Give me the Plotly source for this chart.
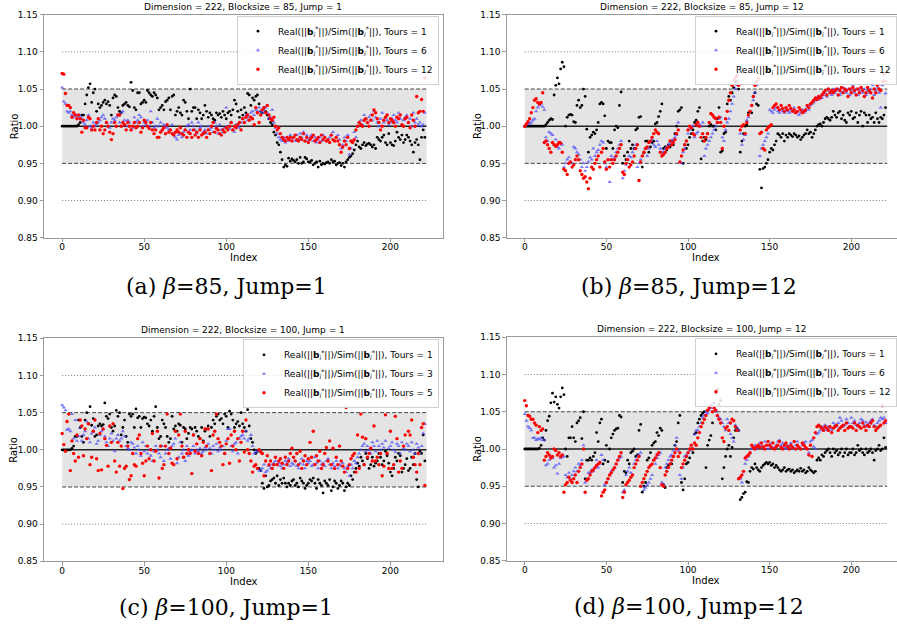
import plotly.graph_objects as go

# Values are deviations from 1.0 in thousandths (ratio = 1 + v/1000), index 0..221
a_t1 = [0,0,0,0,0,0,0,0,0,0,
 2,5,15,15,30,42,52,57,32,45,
 50,20,30,25,28,32,35,30,33,28,
 15,38,42,40,25,20,18,28,30,32,
 28,26,59,48,25,22,45,45,30,32,
 35,32,48,45,42,40,45,42,38,22,
 25,28,22,33,35,38,22,40,42,15,
 20,25,18,15,35,32,20,10,50,20,
 25,25,10,22,18,10,15,28,20,12,
 18,15,10,8,18,15,17,12,20,15,
 10,18,20,15,22,35,30,20,12,22,
 15,25,18,44,42,28,38,35,40,42,
 30,20,18,25,20,15,10,5,2,-8,
 -12,-22,-25,-35,-45,-55,-52,-54,-43,-47,
 -44,-46,-48,-45,-50,-42,-50,-48,-42,-44,
 -48,-48,-46,-52,-50,-48,-55,-47,-52,-50,
 -51,-49,-48,-50,-45,-48,-47,-52,-50,-49,
 -53,-50,-55,-48,-45,-42,-40,-37,-32,-25,
 -20,-28,-30,-25,-22,-26,-24,-23,-25,-28,
 -25,-30,-15,-18,-20,-15,-12,-22,-25,-10,
 -22,-25,-26,-20,-8,-15,-18,-12,-22,-18,
 -12,-15,-20,-25,-35,-22,-18,-25,-45,-15,
 -5,-15]
a_t6 = [52,33,30,20,18,20,15,12,15,14,
 12,14,10,5,2,8,15,0,-2,5,
 0,3,5,8,12,15,10,5,0,-2,
 5,10,8,12,15,5,18,20,8,0,
 8,5,-5,-2,12,5,8,15,12,0,
 5,2,8,0,20,5,-2,0,10,0,
 5,-5,2,0,-2,-5,-5,2,-10,-15,
 -18,-12,-10,-15,-8,-5,0,2,-5,5,
 0,-5,-10,5,-2,0,-8,-5,-10,0,
 -5,-2,-8,5,0,-10,2,-5,-8,-2,
 25,0,-3,5,-5,-8,2,0,-2,5,
 10,5,15,8,12,18,20,15,22,20,
 25,20,18,22,25,18,10,12,22,5,
 -2,-10,-15,-18,-20,-15,-22,-15,-20,-12,
 -18,-15,-20,-12,-18,-10,-15,-8,-20,-12,
 -18,-15,-12,-20,-15,-22,-18,-15,-20,-12,
 -15,-20,-18,-15,-12,-8,-20,-15,-12,-18,
 -30,-25,-15,-20,-12,-38,-30,-20,-8,-15,
 0,5,8,2,15,10,5,12,15,8,
 20,12,5,0,10,18,5,12,8,2,
 5,10,15,8,5,18,10,2,8,12,
 15,5,10,0,18,5,10,2,5,0,
 2,18]
a_t12 = [71,70,44,28,28,25,12,18,15,10,
 15,10,-8,8,-2,-2,12,10,-5,0,
 -5,5,10,-5,0,-10,-5,5,0,-8,
 -18,-10,5,0,15,15,0,5,2,-5,
 5,0,-5,0,5,-2,0,5,-8,-2,
 8,5,0,-3,5,-5,-10,-5,-15,-15,
 -8,-5,-2,-10,2,-8,-5,-10,-12,-8,
 -5,-8,-2,-10,-12,-5,-15,-8,-10,-15,
 -5,-12,-8,-15,-5,-12,-10,-8,-15,-5,
 -10,0,5,-8,-3,-5,-10,-12,-5,-8,
 -2,-5,0,5,-5,0,-2,2,5,-5,
 10,5,12,15,8,12,10,2,25,18,
 5,15,22,25,18,28,15,10,8,12,
 0,-5,-2,-10,-15,-18,-20,-15,-18,-15,
 -20,-15,-12,-18,-20,-15,-18,-10,-20,-15,
 -22,-18,-15,-12,-20,-18,-15,-22,-12,-18,
 -15,-20,-18,-22,-12,-18,-20,-15,-20,-25,
 -35,-28,-20,-25,-15,-30,-20,-22,-18,-5,
 0,5,2,0,8,10,5,0,8,15,
 22,18,10,5,-5,0,8,12,15,5,
 10,8,5,0,12,10,15,2,0,10,
 12,5,-2,15,8,0,40,18,20,36,
 20,65]

b_t1 = [0,0,0,0,0,0,0,0,0,0,
 0,0,0,2,5,8,10,9,42,55,
 65,57,77,86,80,0,12,15,16,15,
 6,5,28,35,25,28,50,40,-4,-35,
 -15,-12,-8,-10,-5,5,30,32,30,14,
 -30,-20,-22,-22,-30,-5,0,-2,28,46,
 -50,-40,-45,-35,-20,-30,-25,-30,-5,-3,
 12,13,-55,-36,-20,-20,-35,-28,-22,-20,
 3,5,13,20,30,-30,-28,-32,-25,-28,
 -20,-25,-10,0,20,22,25,-50,-25,-30,
 -25,-15,-10,-5,5,8,20,25,-44,-20,
 -15,-18,-10,0,2,0,0,-5,10,25,
 -35,-33,-10,-8,30,40,35,45,52,60,
 60,50,-35,-20,-10,0,2,18,20,18,
 40,45,30,28,-58,-83,-57,-55,-50,-45,
 -35,-30,-32,-25,-20,-10,-12,-15,-10,-20,
 -12,-15,-10,-12,-14,-10,-12,-15,-13,-18,
 -15,-12,-10,-5,-10,-8,-15,-10,-5,0,
 2,3,0,5,10,12,10,8,12,20,
 15,12,18,20,10,15,8,5,18,15,
 20,10,12,18,5,15,20,0,18,15,
 5,15,10,12,5,18,10,5,12,10,
 15,25]
b_t6 = [0,2,4,3,5,8,10,20,25,28,
 30,26,22,-15,-20,-8,-10,-12,-25,-18,
 -28,-30,-22,-25,-55,-50,-45,-42,-48,-50,
 -28,-30,-35,-38,-45,-55,-50,-60,-55,-48,
 -42,-45,-30,-40,-35,-32,-25,-20,-22,-50,
 -55,-45,-75,-40,-45,-42,-35,-30,-25,-20,
 -70,-60,-52,-45,-40,-42,-35,-30,-25,-55,
 -50,-45,-40,-35,-30,-40,-30,-22,-18,-25,
 -28,-20,-25,-30,-35,-35,-30,-28,-25,-22,
 -20,-18,-15,-12,5,-48,-50,-35,-30,-20,
 -10,-5,-2,0,-15,-10,-8,2,0,5,
 -40,-30,-25,-20,-15,-10,-5,0,5,10,
 12,-15,-20,-5,5,10,20,30,40,50,
 55,72,-10,-25,-18,-12,8,12,20,28,
 35,45,55,62,-40,-30,-25,-20,-15,-10,
 22,20,18,22,25,20,18,22,20,18,
 22,20,18,22,20,25,18,20,15,18,
 22,18,20,25,22,28,30,32,35,38,
 36,40,38,42,45,40,48,45,42,50,
 45,48,50,42,45,52,48,45,50,42,
 48,55,45,50,42,48,52,45,50,42,
 48,45,50,55,42,48,52,45,25,55,
 62,44]
b_t12 = [0,3,6,10,18,25,35,37,32,30,
 32,45,-22,-20,-25,-30,-35,-22,-25,-27,
 -25,-22,-23,-35,-58,-60,-65,-50,-48,-55,
 -52,-45,-40,-45,-60,-65,-70,-68,-75,-84,
 -70,-55,-58,-50,-45,-40,-55,-35,-30,-48,
 -58,-45,-55,-45,-50,-45,-40,-35,-30,-25,
 -62,-65,-50,-45,-55,-52,-48,-40,-30,-25,
 -73,-48,-40,-35,-30,-28,-22,-20,-15,-10,
 -5,-8,-10,-35,-40,-38,-35,-30,-28,-20,
 -25,-22,-18,-10,-5,-48,-40,-32,-25,-20,
 -5,0,-2,-10,-12,2,5,0,-15,-10,
 -20,-15,-10,5,17,15,12,10,5,12,
 5,-30,0,10,20,35,45,55,62,65,
 68,55,-5,0,2,-10,5,15,20,28,
 40,55,60,65,-10,-8,-30,-32,-5,-2,
 0,2,25,28,30,25,22,28,24,20,
 25,22,28,24,20,22,18,20,25,22,
 18,20,22,28,25,30,32,35,38,36,
 40,38,42,45,48,42,50,45,48,45,
 48,50,42,48,52,45,50,48,40,50,
 45,52,48,42,50,45,52,48,40,45,
 52,48,45,38,50,45,55,50,48,60,
 70,60]

c_t1 = [0,0,0,0,0,0,2,5,18,18,
 40,30,18,10,40,50,35,58,33,42,
 18,20,32,35,32,34,63,45,42,48,
 30,25,32,53,45,50,20,30,40,18,
 10,48,45,48,30,55,43,45,30,42,
 44,43,35,32,40,25,45,58,30,15,
 18,40,35,30,18,10,15,45,28,32,
 25,35,33,10,30,28,15,22,30,28,
 20,30,25,18,15,30,12,25,28,32,
 18,30,40,35,45,48,40,42,35,48,
 45,30,52,48,40,30,35,38,32,50,
 35,30,25,54,32,15,10,0,-5,-2,
 -25,-28,-45,-52,-35,-50,-48,-42,-40,-38,
 -45,-35,-48,-40,-45,-38,-45,-50,-45,-48,
 -42,-40,-48,-45,-50,-38,-42,-45,-52,-48,
 -45,-40,-42,-38,-45,-52,-40,-45,-48,-58,
 -42,-45,-48,-40,-55,-50,-42,-45,-52,-48,
 -42,-45,-55,-50,-45,-48,-35,-40,-30,-25,
 -18,-22,-10,-15,-20,-5,-12,-25,-20,-10,
 -22,-18,-15,-5,-10,-20,-15,-2,-8,-18,
 -30,-35,-25,-10,-15,-5,-8,-30,-25,-20,
 -12,-28,-25,-10,-20,-5,-40,-50,-2,-5,
 20,-15]
c_t3 = [60,57,53,27,28,25,48,15,40,12,
 18,30,12,20,25,38,15,10,22,25,
 30,8,12,20,25,28,18,10,5,15,
 22,12,-2,15,20,12,15,25,18,5,
 2,0,10,8,3,-5,5,0,-8,10,
 -2,5,-5,0,-8,-15,-2,5,0,-5,
 -10,5,-15,-5,0,2,-12,5,8,15,
 -18,-10,10,-5,0,-15,5,-8,-2,0,
 5,-5,0,-2,2,-5,-2,3,0,8,
 2,-5,5,0,8,-2,3,0,5,-5,
 12,28,28,5,-2,8,10,-5,15,18,
 20,15,25,12,15,20,5,-5,-3,-2,
 -28,-28,-25,-20,-30,-28,-22,-25,-20,-18,
 -15,-20,-18,-22,-25,-20,-15,-18,-12,-22,
 -18,-20,-15,-22,-25,-18,-12,-20,-25,-15,
 -18,-15,-22,-20,-10,-18,-25,-15,-20,-18,
 -22,-15,-12,-20,-25,-18,-22,-15,-25,-20,
 -22,-18,-25,-30,-22,-35,-20,-25,-15,-18,
 -10,-5,0,5,8,-2,5,0,-5,10,
 5,-2,12,5,0,8,3,12,-5,2,
 5,10,0,-3,8,5,-5,10,2,0,
 8,5,-2,10,0,-5,8,3,-5,5,
 22,35]
c_t5 = [22,7,-2,38,48,-28,12,-5,-15,20,
 -10,40,32,-8,28,15,35,-20,-10,25,
 40,-12,-28,22,-27,28,15,6,-22,32,
 10,35,-15,-30,10,-22,5,-52,-25,-22,
 5,-40,-35,-5,-20,-22,15,20,-5,-18,
 -35,-15,5,-12,0,22,-15,-2,25,-38,
 5,-25,-20,5,48,-5,2,-18,-20,25,
 -12,20,48,5,-10,25,-5,0,-5,-32,
 20,-2,8,-5,15,-8,10,28,5,28,
 -5,-28,20,25,48,15,10,5,-20,-5,
 8,15,-18,20,5,25,0,15,-15,10,
 25,-3,40,0,-5,-15,-30,-22,-20,-25,
 0,-3,-5,-35,-15,-8,-20,-15,-25,-20,
 -10,-20,-15,-12,-18,-25,-10,-20,-15,-5,
 2,-10,-15,-5,-20,-2,-25,-15,-8,-20,
 -12,10,-10,25,-20,-8,-15,-2,-25,-20,
 -5,3,-15,12,-20,2,-25,-10,-20,5,
 -15,-22,-30,57,-25,-20,-12,-8,-5,-30,
 20,-25,48,17,-20,15,-10,-5,2,-15,
 32,-15,-10,-20,-5,-35,-22,47,-5,-25,
 25,-25,-20,45,15,-30,-15,-25,5,20,
 70,25,20,40,-10,-20,-30,-5,-20,30,
 35,-48]

d_t1 = [0,0,0,0,0,0,0,0,0,1,
 5,15,12,25,38,44,62,75,63,70,
 60,55,70,82,73,0,-10,15,15,30,
 15,10,35,38,42,14,50,-40,-15,-15,
 -12,-15,-10,-5,22,10,35,40,-20,-15,
 5,-17,0,15,20,25,27,28,45,43,
 -45,-30,-32,-15,-20,-5,-3,0,-10,-8,
 25,33,-58,-50,-45,-15,-12,-5,5,8,
 10,22,18,28,25,-48,-52,-25,-22,-20,
 -20,-10,5,10,35,45,-45,-55,-40,-20,
 -18,-12,0,-5,20,22,35,40,45,48,
 50,-25,5,12,18,35,62,75,80,60,
 65,-40,-25,-10,0,5,-10,2,15,25,
 28,25,-68,-65,-60,-58,-44,-45,-30,-25,
 -27,-20,-25,-28,-30,-25,-22,-20,-18,-20,
 -18,-22,-20,-25,-22,-25,-28,-30,-28,-25,
 -30,-28,-27,-30,-28,-32,-30,-28,-30,-26,
 -30,-28,-32,-30,-25,-28,-30,-32,-30,-15,
 -12,-15,-8,-10,-5,-2,0,-5,-10,0,
 -5,-2,-8,-5,0,-10,-5,0,-8,-5,
 -5,0,-8,-5,5,-2,0,-5,-8,0,
 -5,-3,0,-5,-15,-2,0,5,-2,0,
 15,2]
d_t6 = [47,38,30,28,25,15,15,12,14,13,
 15,12,12,-22,-20,-15,-10,-12,-25,-22,
 -33,-20,-12,-10,-10,-35,-38,-32,-40,-35,
 -30,-25,-30,-20,-22,-15,5,-45,-40,-32,
 -32,-28,-30,-25,-15,-25,-20,-8,-15,-48,
 -45,-40,-35,-30,-28,-25,-20,-15,-12,-10,
 -58,-55,-35,-30,-25,-32,-35,-20,-15,-10,
 -8,-5,-50,-55,-52,-48,-45,-40,-35,-15,
 -20,-12,-8,-5,-45,-48,-25,-20,-15,-10,
 -8,-2,5,15,-2,-35,-40,-25,-10,-8,
 -5,-2,5,0,20,25,25,30,35,42,
 45,50,48,52,55,60,55,50,45,42,
 40,35,30,25,40,35,20,15,10,32,
 28,25,-40,-45,-30,-20,-15,-10,-5,0,
 2,5,0,3,8,5,2,10,5,0,
 5,8,2,0,5,10,12,5,8,2,
 0,5,2,8,3,0,5,10,2,0,
 5,8,10,0,-5,10,12,3,0,20,
 22,25,30,28,32,25,30,28,25,35,
 32,30,35,42,38,30,32,40,35,30,
 42,35,38,32,30,35,40,38,32,36,
 30,35,38,40,32,30,35,38,42,40,
 42,35]
d_t12 = [65,58,45,44,40,40,35,32,22,30,
 25,27,-15,-10,-5,-8,-12,-10,0,-2,
 -8,-5,-10,-8,-58,-48,-45,-38,-42,-45,
 -40,-35,-45,-30,-25,-20,0,-58,-42,-40,
 -35,-30,-28,-25,-22,-20,-18,-63,-58,-55,
 -45,-40,-35,-32,-28,-25,-20,-15,-10,-5,
 -65,-58,-48,-45,-42,-38,-35,-25,-20,-15,
 -10,-50,-45,-40,-35,-30,-25,-22,-20,-15,
 -12,-8,-5,-25,-48,-50,-35,-30,-25,-20,
 -15,-10,-5,0,-10,-5,-25,-20,-15,-10,
 -5,0,5,0,8,5,15,22,30,35,
 40,45,52,55,58,50,55,52,45,40,
 35,15,10,28,30,25,35,40,38,30,
 25,-40,-38,-35,-30,-12,-10,-8,-5,5,
 2,0,3,5,2,8,3,0,5,10,
 5,2,8,0,3,5,10,2,0,5,
 8,3,0,5,2,10,0,5,2,0,
 8,5,2,0,-8,5,-10,15,22,30,
 32,30,28,25,30,28,25,30,22,28,
 30,32,25,28,30,32,25,35,28,30,
 30,28,35,25,32,30,28,35,30,25,
 32,30,35,38,30,25,28,30,32,58,
 35,38]

titles = ["Dimension = 222, Blocksize = 85, Jump = 1",
          "Dimension = 222, Blocksize = 85, Jump = 12",
          "Dimension = 222, Blocksize = 100, Jump = 1",
          "Dimension = 222, Blocksize = 100, Jump = 12"]
captions = ["(a) <i>β</i>=85, Jump=1", "(b) <i>β</i>=85, Jump=12",
            "(c) <i>β</i>=100, Jump=1", "(d) <i>β</i>=100, Jump=12"]
tours = [[1, 6, 12], [1, 6, 12], [1, 3, 5], [1, 6, 12]]
series = [[a_t1, a_t6, a_t12], [b_t1, b_t6, b_t12],
          [c_t1, c_t3, c_t5], [d_t1, d_t6, d_t12]]

W, H = 897, 626
# panel frames in pixels: (left, right, top, bottom)
frames = [(44, 443, 14.7, 237.7), (506.7, 897, 14.7, 237.7),
          (44, 443, 338.3, 561.3), (506.7, 897, 337.3, 560.7)]
xranges = [[-11.05, 232.05], [-11.05, 228.0], [-11.05, 232.05], [-11.05, 228.0]]
caption_pos = [(226, 286), (689, 286), (226, 607), (689, 606)]

FONT = "DejaVu Sans"
fig = go.Figure()
layout = dict(width=W, height=H, margin=dict(l=0, r=0, t=0, b=0, autoexpand=False),
              plot_bgcolor="white", paper_bgcolor="white",
              font=dict(family=FONT, color="black", size=9),
              shapes=[], annotations=[])

styles = [dict(color="black", symbol="circle", size=2.8, opacity=1.0),
          dict(color="rgb(70,70,255)", symbol="triangle-up", size=3.8, opacity=0.7),
          dict(color="red", symbol="circle", size=3.4, opacity=1.0)]

label = "Real(||<b>b</b><sub><i>i</i></sub><sup>*</sup>||)/Sim(||<b>b</b><sub><i>i</i></sub><sup>*</sup>||), Tours = {}"

for p in range(4):
    sfx = "" if p == 0 else str(p + 1)
    xa, ya = "x" + sfx, "y" + sfx
    leg = "legend" if p == 0 else "legend" + str(p + 1)
    l, r, t, b = frames[p]
    for k in range(3):
        vals = series[p][k]
        st = styles[k]
        fig.add_trace(go.Scatter(
            x=list(range(len(vals))), y=[1 + v / 1000 for v in vals],
            mode="markers", xaxis=xa, yaxis=ya, legend=leg,
            name=label.format(tours[p][k]),
            marker=dict(color=st["color"], symbol=st["symbol"], size=st["size"],
                        opacity=st["opacity"], line=dict(width=0))))
    axkw = dict(showline=True, linecolor="#9a9a9a", linewidth=1, mirror=True,
                ticks="outside", ticklen=3.5, tickcolor="#9a9a9a",
                showgrid=False, zeroline=False, tickfont=dict(size=9, family=FONT))
    layout["xaxis" + sfx] = dict(domain=[l / W, r / W], range=xranges[p],
                                 anchor=ya, tickvals=[0, 50, 100, 150, 200],
                                 ticklabelstandoff=-3, **axkw)
    layout["yaxis" + sfx] = dict(domain=[1 - b / H, 1 - t / H], range=[0.85, 1.15],
                                 anchor=xa, tickvals=[0.85, 0.90, 0.95, 1.00, 1.05, 1.10, 1.15],
                                 tickformat=".2f", **axkw)
    # reference band and lines
    layout["shapes"].append(dict(type="rect", xref=xa, yref=ya, x0=0, x1=222, y0=0.95, y1=1.05,
                                 fillcolor="#e4e4e4", line=dict(width=0), layer="below"))
    for yv in (0.95, 1.05):
        layout["shapes"].append(dict(type="line", xref=xa, yref=ya, x0=0, x1=222, y0=yv, y1=yv,
                                     line=dict(color="#444", width=1, dash="4px,2px"), layer="below"))
    for yv in (0.90, 1.10):
        layout["shapes"].append(dict(type="line", xref=xa, yref=ya, x0=0, x1=222, y0=yv, y1=yv,
                                     line=dict(color="#777", width=1, dash="1px,2px"), layer="below"))
    layout["shapes"].append(dict(type="line", xref=xa, yref=ya, x0=0, x1=222, y0=1.0, y1=1.0,
                                 line=dict(color="#222", width=1.5), layer="below"))
    # title
    layout["annotations"].append(dict(text=titles[p], xref="paper", yref="paper",
                                      x=((l + min(r, l + 397)) / 2) / W, y=1 - (t - 1) / H,
                                      xanchor="center", yanchor="bottom", showarrow=False,
                                      font=dict(size=9, family=FONT)))
    # axis titles
    layout["annotations"].append(dict(text="Index", xref="paper", yref="paper",
                                      x=((l + l + 399) / 2) / W, y=1 - (b + 20) / H,
                                      xanchor="center", yanchor="middle", showarrow=False,
                                      font=dict(size=10, family=FONT)))
    layout["annotations"].append(dict(text="Ratio", xref="paper", yref="paper",
                                      x=(l - 30) / W, y=1 - ((t + b) / 2) / H, textangle=-90,
                                      xanchor="center", yanchor="middle", showarrow=False,
                                      font=dict(size=10, family=FONT)))
    cx, cy = caption_pos[p]
    layout["annotations"].append(dict(text=captions[p], xref="paper", yref="paper",
                                      x=cx / W, y=1 - cy / H, xanchor="center", yanchor="middle",
                                      showarrow=False, font=dict(size=22, family="DejaVu Serif")))
    legx = (l + 395) / W if p in (0, 2) else 1.0
    layout[leg] = dict(x=min(legx, 1.0), y=1 - (t + 1) / H, xanchor="right", yanchor="top",
                       bgcolor="rgba(255,255,255,0.85)", bordercolor="#d0d0d0", borderwidth=1,
                       font=dict(size=9, family=FONT), itemsizing="trace",
                       tracegroupgap=0)

fig.update_layout(**layout)
fig.write_html("out.html")
